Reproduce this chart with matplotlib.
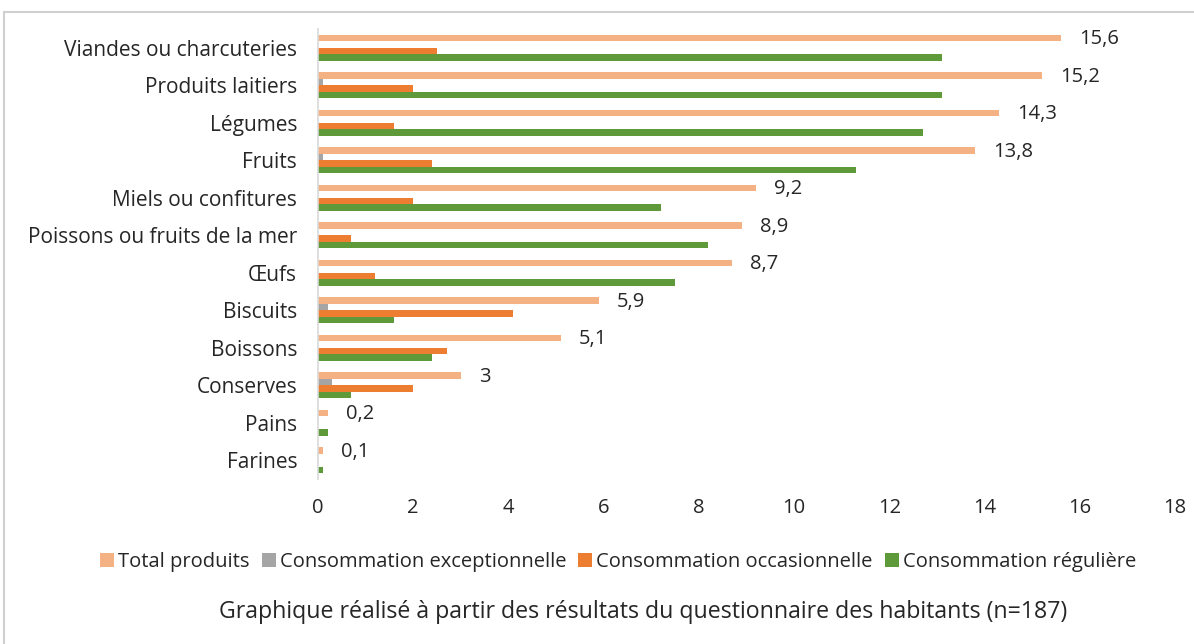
import numpy as np
import matplotlib
matplotlib.use('Agg')
import matplotlib.pyplot as plt
import matplotlib.patches as patches

plt.rcParams['font.family'] = ['Open Sans', 'DejaVu Sans']

# ---------------------------------------------------------------------------
# Data
# ---------------------------------------------------------------------------
categories = ['Viandes ou charcuteries', 'Produits laitiers', 'Légumes', 'Fruits',
              'Miels ou confitures', 'Poissons ou fruits de la mer', 'Œufs',
              'Biscuits', 'Boissons', 'Conserves', 'Pains', 'Farines']
total      = [15.6, 15.2, 14.3, 13.8, 9.2, 8.9, 8.7, 5.9, 5.1, 3.0, 0.2, 0.1]
except_    = [0.0, 0.1, 0.0, 0.1, 0.0, 0.0, 0.0, 0.2, 0.0, 0.3, 0.0, 0.0]
occasion   = [2.5, 2.0, 1.6, 2.4, 2.0, 0.7, 1.2, 4.1, 2.7, 2.0, 0.0, 0.0]
reguliere  = [13.1, 13.1, 12.7, 11.3, 7.2, 8.2, 7.5, 1.6, 2.4, 0.7, 0.2, 0.1]
total_labels = ['15,6', '15,2', '14,3', '13,8', '9,2', '8,9', '8,7',
                '5,9', '5,1', '3', '0,2', '0,1']
series_names = ['Total produits', 'Consommation exceptionnelle',
                'Consommation occasionnelle', 'Consommation régulière']

colors = ['#F4B183', '#A5A5A5', '#ED7D31', '#5E9A3A']
txt = '#262626'

W, H = 1194, 644
fig = plt.figure(figsize=(W / 100, H / 100), dpi=100)

# light grey frame around chart area
fig.add_artist(patches.Rectangle((4 / W, -0.05), 1.1, 1 - 12 / H + 0.05,
                                 transform=fig.transFigure, fill=False,
                                 edgecolor='#D0D0D0', lw=1.5))

ax = fig.add_axes([318 / W, 1 - 479 / H, (1175 - 318) / W, (479 - 29) / H])

y = np.arange(len(categories))
h = 0.176
offsets = [-1.5 * h, -0.5 * h, 0.5 * h, 1.5 * h]
handles = []
for vals, off, col, name in zip([total, except_, occasion, reguliere],
                                offsets, colors, series_names):
    b = ax.barh(y + off, vals, height=h, color=col, label=name)
    handles.append(b)

for yi, v, lab in zip(y, total, total_labels):
    ax.annotate(lab, (v, yi + offsets[0]), xytext=(13, -1),
                textcoords='offset points', va='center', ha='left',
                fontsize=14.5, color=txt)

ax.set_xlim(0, 18)
ax.set_xticks(np.arange(0, 19, 2))
ax.set_ylim(len(categories) - 0.5, -0.5)
ax.set_yticks(y)
ax.set_yticklabels(categories)
ax.tick_params(axis='x', length=0, pad=14, labelsize=14.5, labelcolor=txt)
ax.tick_params(axis='y', length=0, pad=15, labelsize=15, labelcolor=txt)
for s in ['top', 'right', 'bottom']:
    ax.spines[s].set_visible(False)
ax.spines['left'].set_color('#D9D9D9')
ax.spines['left'].set_linewidth(1.2)

fig.legend(handles=handles, labels=series_names, loc='center', ncol=4,
           bbox_to_anchor=(618 / W, 1 - 562 / H), frameon=False,
           fontsize=14.5, handlelength=0.7, handleheight=0.7,
           handletextpad=0.2, columnspacing=0.6, labelcolor=txt)

fig.text(643 / W, 1 - 612 / H,
         'Graphique réalisé à partir des résultats du questionnaire des habitants (n=187)',
         ha='center', va='center', fontsize=16.7, color=txt)

fig.savefig('out.png', dpi=100)
